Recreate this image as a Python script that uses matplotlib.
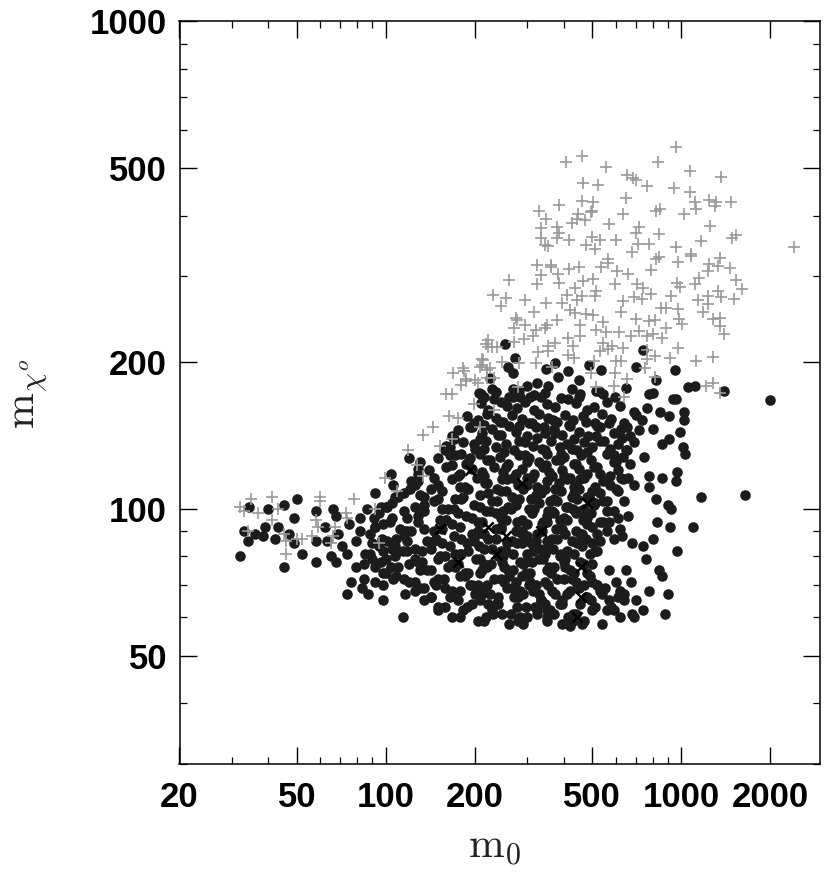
import matplotlib
matplotlib.use("Agg")
import matplotlib.pyplot as plt
from matplotlib.ticker import FixedLocator, NullFormatter, FixedFormatter

plt.rcParams['mathtext.fontset'] = 'cm'
plt.rcParams['font.family'] = ['Liberation Sans', 'DejaVu Sans']

x_major = [20, 50, 100, 200, 500, 1000, 2000]
x_minor = [30, 40, 60, 70, 80, 90, 300, 400, 600, 700, 800, 900]
y_major = [50, 100, 200, 500, 1000]
y_minor = [30, 40, 60, 70, 80, 90, 300, 400, 600, 700, 800, 900]

gray_m0_a = [957,460,407,833,556,1067,656,689,701,1366,465,521,763,942,1072,650,460,504,386,1112,
             1122,1244,1316,1300,1477,329,498,494,846,821,633,1025,349,446,443,472,425,571,1247,335,
             380,722,704,844,386,335,380,417,497,532,599,1170,1530,1480,346,353,476,715,779,510,
             957,683,1080,1080,2415,842,821,563,566,975,1350,325,361,363,418,450,536,606,662,788,
             1240,1334,1460,1228,1152,336,382,502,262,325,595,386,465,437,708,965,1110,1536,1600,990]
gray_mchi_a = [552,531,515,515,504,494,484,478,474,480,467,463,459,455,446,435,429,427,421,427,
               413,431,427,419,427,409,409,407,412,409,403,403,393,403,393,392,387,384,381,377,
               379,379,368,366,368,360,360,356,362,356,357,355,364,360,348,346,348,350,350,341,
               345,336,334,331,344,329,326,326,319,321,327,316,316,313,310,313,313,308,303,309,
               318,315,312,308,298,302,304,297,295,289,289,291,293,284,290,291,289,295,283,285]
gray_m0_b = [740,1334,513,788,230,256,409,460,512,690,920,295,349,396,443,634,735,1141,1234,1228,
             1510,1366,246,317,419,856,888,975,626,1186,275,277,295,476,503,437,379,704,542,813,
             779,1283,1358,1350,980,1005,350,454,271,321,346,513,617,558,717,890,1400,414,454,804,
             768,863,675,221,293,271,222,238,315,373,354,431,545,581,633,975,354,328,414,435,
             529,566,763,812,917,1125,1280,603,626,763,213,212,225,248,283,323,183,186,200,232,
             364,496,506,596,753,812,656,593,1215,1280,1350,280,513,641]
gray_mchi_b = [284,280,280,276,275,271,275,274,273,272,274,268,265,265,269,267,270,268,273,264,
               270,272,261,254,256,259,258,257,254,254,247,244,239,251,250,252,244,245,242,244,
               243,245,246,237,245,240,239,239,235,233,235,233,231,231,232,235,229,224,226,229,
               226,224,226,222,223,220,215,215,226,219,216,216,219,216,214,214,211,210,207,204,
               211,213,212,206,204,201,205,201,201,203,202,197,195,200,199,199,195,185,184,186,
               196,190,201,190,195,187,185,179,179,181,173,178,178,170]
gray_m0_c = [218,229,212,209,220,169,184,179,187,205,220,160,167,163,175,199,232,208,144,133,
             152,167,119,127,133,99,109,92,78,73,74,67,95,65,66,35,41,32,33,37,
             43,41,34,45,60,60,58,59,56,52,50,46,46]
gray_mchi_c = [218,215,203,196,193,190,192,180,183,181,186,172,172,155,154,164,160,147,147,142,
               135,139,132,123,117,116,109,100,105,98,96,92,85,85,88,105,106,101,99,98,
               100,95,90,89,106,104,95,92,88,87,87,86,81]

dot_m0_tail = [32,34.5,40,45,50,33,36,39,38.5,43,42,47,34,45,52,58,49,49,58,58,
               62,63,66,68,65,68,69,71,75,74,79,82,82,86,88,79,84,76,84,74,
               83,87,98,114,92,96,101,91,92,103,115,101,98,107,118,92,98,106,92,98,
               116,104,106,121,128,128,107,120]
dot_mchi_tail = [80,101,100,102,105,90,89,92,88,92,87,89,86,76,81,78,96,85,99,86,
                 92,86,100,97,80,78,89,84,93,81,86,96,90,100,81,76,77,71,72,67,
                 69,67,65,60,108,101,101,96,92,94,90,86,82,84,82,76,74,72,71,70,
                 67,118,112,110,121,114,106,127]
dot_m0_right = [2000,1400,1110,1055,940,780,1020,1020,994,910,860,1010,1030,750,850,910,800,767,970,960,
                775,860,775,1170,1650,820,900,925,1100,915,830,965,680,740,800,760,840,860,900,880,
                780,742,690,650,675,700,420,350,285,325,430,460]
dot_mchi_right = [167,175,179,178,168,172,158,152,144,139,136,134,130,128,158,155,146,161,119,114,
                  117,116,111,106,107,105,102,100,92,92,94,82,85,84,87,79,75,73,67,61,
                  68,62,60,75,71,65,57.5,59,60,62,61,58]
dot_m0_top = [253,740,274,375,487,700,950,260,270,348,450,536,820,384,414,225,228,270,326,354,
              301,425,650,800,525,545,207,215,232,957,285,308,336,414,450,270,170,165,165,199,
              193,193,210]
dot_mchi_top = [218,212,204,199,197,196,193,196,190,194,184,193,184,187,192,186,176,176,181,179,
                179,176,177,173,175,172,173,170,168,168,170,170,170,168,170,170,139,134,129,136,
                127,147,172]
dot_m0_core = [
    210,222,245,258,278,296,318,352,375,440,480,505,560,620,690,
    188,205,220,236,250,268,290,305,330,355,380,405,430,465,510,540,580,640,700,735,
    175,195,212,228,240,262,276,300,322,345,372,395,420,450,485,530,590,625,670,720,
    160,182,200,218,235,255,272,295,315,338,362,388,410,445,470,500,530,575,610,650,690,
    150,172,190,208,225,243,260,283,305,330,352,378,402,432,458,495,560,600,635,670,
    140,160,178,196,215,232,250,270,290,318,340,365,395,420,450,480,520,575,610,660,
    122,150,168,185,204,220,238,258,280,300,325,350,375,410,440,470,510,545,600,635,690,
    115,135,155,172,190,208,228,246,268,292,310,335,360,392,425,452,490,530,560,610,
    105,125,145,162,180,198,218,238,260,282,305,330,355,380,415,445,470,510,590,640,
    95,118,135,152,170,186,205,225,245,265,290,312,340,365,400,430,465,495,530,560,610,660,
    98,112,128,145,160,178,195,212,235,255,275,300,325,350,378,410,440,480,520,570,620,
    88,108,122,138,155,170,188,205,222,245,268,288,310,338,365,395,425,460,500,560,590,630,
    90,105,118,132,148,165,180,198,215,235,255,278,300,322,350,380,410,445,490,530,
    85,100,114,128,142,158,175,190,208,228,248,270,292,315,340,368,400,435,470,520,
    96,110,125,138,152,168,185,202,220,240,260,285,308,330,358,390,420,455,
    100,115,130,145,162,178,195,212,232,252,275,298,322,350,380,405,440,480,520,570,
    120,135,150,168,185,205,225,245,268,290,315,345,375,400,450,490,530,600,640,
    125,142,158,175,192,212,235,258,280,305,335,365,395,445,480,520,570,620,
    135,150,165,182,200,222,248,272,298,330,360,395,440,475,510,540,590,640,680,
    150,168,188,215,240,265,292,320,350,390,430,500,540,580,620,
    178,205,230,262,300,352,395,470,
]
dot_mchi_core = [
    165,160,166,163,161,166,160,164,162,165,160,162,166,163,158,
    155,152,157,154,151,156,153,150,157,154,151,156,152,155,150,157,153,150,156,152,
    145,147,143,146,142,148,144,141,147,143,146,142,148,144,141,147,143,146,141,145,
    135,137,133,138,134,136,132,137,135,133,138,134,136,132,137,134,138,133,136,132,137,
    127,129,125,130,126,128,124,129,127,125,130,126,128,124,129,126,130,125,128,124,
    120,122,118,121,117,122,119,116,121,118,122,117,120,116,121,118,122,117,120,116,
    114,112,115,111,116,113,110,115,112,116,111,114,110,115,112,116,111,114,110,115,112,
    108,106,109,105,110,107,104,109,106,110,105,108,104,109,106,110,105,108,104,109,
    103,101,104,100,105,102,99,104,101,105,100,103,99,104,101,105,100,103,99,104,
    98,96,99,95,100,97,94,99,96,100,95,98,94,99,96,100,95,98,94,99,96,97,
    93,91,94,90,95,92,89,94,91,95,90,93,89,94,91,95,90,93,89,94,91,
    89,87,90,86,91,88,85,90,87,91,86,89,85,90,87,91,86,89,85,90,87,88,
    85,83,86,82,87,84,81,86,83,87,82,85,81,86,83,87,82,85,81,86,
    81,79,82,78,83,80,77,82,79,83,78,81,77,82,79,83,78,81,77,82,
    78,76,79,75,80,77,74,79,76,80,75,78,74,79,76,80,75,78,
    74,72,75,71,76,73,70,75,72,76,71,74,70,75,72,76,71,74,70,75,
    71,69,72,68,73,70,67,72,69,73,68,71,67,72,69,73,68,71,67,
    68,66,69,65,70,67,64,69,66,70,65,68,64,69,66,70,65,68,
    65,63,66,62,67,64,61,66,63,67,62,65,61,66,63,67,62,65,61,
    62,60,63,59,64,61,58,63,60,64,59,62,58,63,60,
    60,59,61,58,60,62,58,59,
]
dot_m0_fill = [
    235,262,283,318,345,392,455,515,598,
    198,215,244,283,312,342,368,416,475,520,568,655,
    168,208,246,283,326,375,435,515,548,630,
    158,180,214,252,296,345,392,425,480,590,655,
    130,168,186,220,255,300,348,388,440,505,590,
    128,145,175,212,248,276,312,358,400,455,530,625,
    125,142,178,216,256,300,345,385,432,500,575,
    110,130,150,182,222,275,322,372,435,480,545,
    100,115,135,155,175,208,250,275,318,372,408,455,505,
    105,128,160,195,235,278,352,390,440,480,545,
    92,118,135,168,203,245,290,338,392,455,500,
    97,115,146,180,215,258,300,352,405,475,
    95,110,125,155,172,207,245,288,332,392,460,510,
    90,107,132,150,178,215,250,297,345,405,
    104,120,142,172,208,226,270,312,370,432,500,
    108,125,157,190,220,262,308,362,425,470,
    130,148,178,215,252,292,355,420,500,550,
    142,172,208,240,285,345,410,495,610,
    158,195,228,278,335,372,455,560,
    218,280,325,415,
]
dot_mchi_fill = [
    174,170,175,171,173,169,172,175,170,
    150,149,151,148,150,147,152,149,151,148,150,147,
    141,139,142,138,140,143,139,141,138,140,
    132,130,133,131,129,132,130,133,131,129,132,
    125,123,124,126,122,125,123,126,124,122,125,
    118,116,117,119,115,118,116,119,117,115,118,116,
    112,110,111,113,109,112,110,113,111,109,112,
    106,107,105,106,108,104,107,105,108,106,104,
    101,99,102,100,98,101,99,102,100,98,101,99,102,
    96,97,95,96,98,94,97,95,98,96,94,
    92,90,91,93,89,92,90,93,91,89,92,
    87,88,86,87,89,85,88,86,89,87,
    84,82,83,85,81,84,82,85,83,81,84,82,
    79,80,78,79,81,77,80,78,81,79,
    76,77,75,76,74,77,75,78,76,74,77,
    73,71,72,74,70,73,71,74,72,70,
    69,70,68,69,71,67,70,68,71,69,
    66,67,65,66,68,64,67,65,66,
    63,64,62,63,65,61,64,62,
    60,59,61,60,
]
star_m0 = [193,290,153,222,235,255,335,458,478,458,445,175]
star_mchi = [120,113,91,92,81,88,90,76,103,66,60,78]

C_GRAY = '#999999'
C_DOT = '#1c1c1c'

fig = plt.figure(figsize=(8.30, 8.81), dpi=100, facecolor='white')
W, H = 830.0, 881.0
ax = fig.add_axes([179.5 / W, 1 - 764 / H, 640.5 / W, 742.5 / H])
ax.set_xscale('log')
ax.set_yscale('log')
ax.set_xlim(20, 2950)
ax.set_ylim(30, 1000)

dot_m0 = dot_m0_tail + dot_m0_right + dot_m0_top + dot_m0_core + dot_m0_fill
dot_mchi = dot_mchi_tail + dot_mchi_right + dot_mchi_top + dot_mchi_core + dot_mchi_fill
ax.scatter(dot_m0, dot_mchi, s=58, c=C_DOT, marker='o', linewidths=0, zorder=2)
ax.scatter(star_m0, star_mchi, s=55, c='black', marker='x', linewidths=1.8, zorder=3)
gray_m0 = gray_m0_a + gray_m0_b + gray_m0_c
gray_mchi = gray_mchi_a + gray_mchi_b + gray_mchi_c
ax.scatter(gray_m0, gray_mchi, s=65, c=C_GRAY, marker='+', linewidths=1.2, zorder=4)

ax.xaxis.set_major_locator(FixedLocator(x_major))
ax.xaxis.set_minor_locator(FixedLocator(x_minor))
ax.xaxis.set_major_formatter(FixedFormatter([str(v) for v in x_major]))
ax.xaxis.set_minor_formatter(NullFormatter())
ax.yaxis.set_major_locator(FixedLocator(y_major))
ax.yaxis.set_minor_locator(FixedLocator(y_minor))
ax.yaxis.set_major_formatter(FixedFormatter([str(v) for v in y_major]))
ax.yaxis.set_minor_formatter(NullFormatter())
ax.tick_params(which='major', direction='in', length=12.5, width=1.0, top=True, right=True)
ax.tick_params(which='minor', direction='in', length=5, width=0.9, top=True, right=True)
ax.tick_params(axis='x', which='major', pad=12)
ax.tick_params(axis='y', which='major', pad=9)
for lab in ax.get_xticklabels() + ax.get_yticklabels():
    lab.set_fontsize(25)
    lab.set_fontweight('bold')
for s in ax.spines.values():
    s.set_linewidth(1.1)

fig.text(495 / W, 1 - 858 / H, r'$\mathrm{m}_0$', fontsize=31, ha='center', va='baseline', color='#222222')
fig.text(30 / W, 1 - 394 / H, r'$\mathrm{m}_{\chi^o}$', fontsize=31, rotation=90, ha='center', va='center', color='#222222')

fig.savefig('out.png', dpi=100, facecolor='white')
